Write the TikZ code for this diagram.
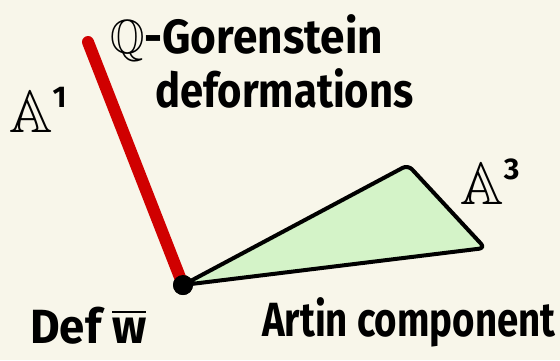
\documentclass[tikz,border=0pt]{standalone}
\usepackage{amssymb}
\usepackage{fontspec}
\setmainfont{Fira Sans}
\definecolor{bgc}{HTML}{F8F6EA}
\definecolor{redl}{HTML}{D00000}
\definecolor{greenf}{HTML}{D4F3C8}
\newcommand{\supmark}[1]{\raisebox{0.42em}{\fontsize{30}{30}\selectfont\bfseries #1}}
\tikzset{
  lbl/.style={inner sep=0pt, text=black},
  big/.style={lbl, font=\fontsize{48}{54}\selectfont\bfseries},
  bbl/.style={lbl, font=\fontsize{60}{66}\selectfont},
}
\begin{document}
\begin{tikzpicture}[x=1pt,y=-1pt]
\fill[bgc] (0,0) rectangle (560,360);
\useasboundingbox (0,0) rectangle (560,360);
% geometry
\coordinate (top) at (88,42);
\node[circle, fill=black, minimum size=20pt, inner sep=0pt] (o) at (183,285) {};
\coordinate (t2) at (408,165);
\coordinate (t3) at (485,248);
% green triangle
\fill[greenf] (o.center) -- (t2) -- (t3) -- cycle;
\draw[black, line width=4pt, line join=round, rounded corners=6pt] (o.center) -- (t2) -- (t3) -- (o.center);
% red line
\draw[redl, line width=12pt, line cap=round] (top) -- (o.center);
\node[circle, fill=black, minimum size=20pt, inner sep=0pt] at (o) {};
% labels
\node[big, anchor=west, xscale=0.92] (qg) at (110,38) {$\mathbb{Q}$-Gorenstein};
\node[big, anchor=west, xscale=0.87] (defo) at (155,88) {deformations};
\node[bbl, anchor=center] (a1) at (38,110) {$\mathbb{A}$\supmark{1}};
\node[bbl, anchor=center] (a3) at (490,182) {$\mathbb{A}$\supmark{3}};
\node[big, anchor=west, xscale=0.95] (defw) at (30,326) {Def $\overline{\mbox{w}}$};
\node[big, anchor=west, xscale=0.8] (artin) at (262,322) {Artin component};
\end{tikzpicture}
\end{document}
